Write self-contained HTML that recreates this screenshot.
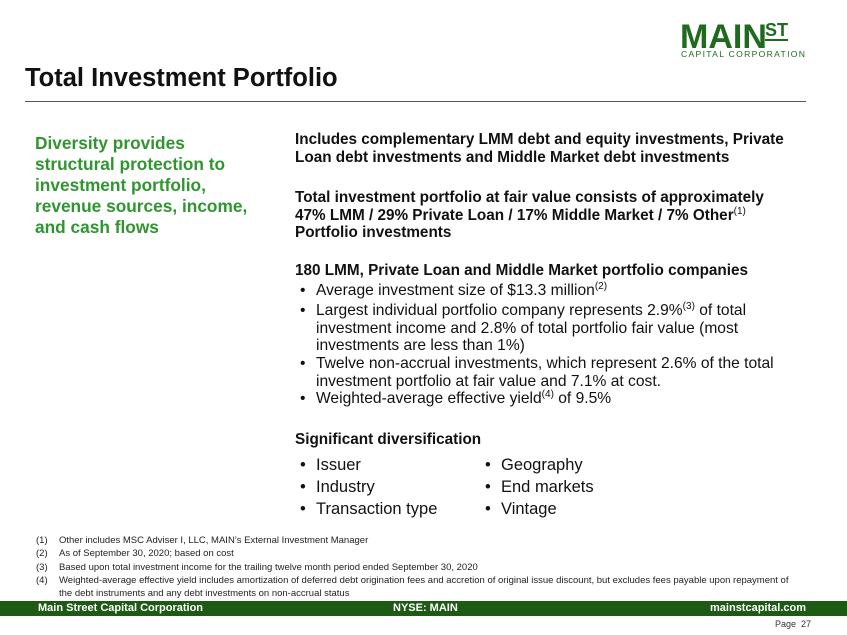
<!DOCTYPE html>
<html><head><style>
body{margin:0;width:847px;height:635px;position:relative;background:#fff;font-family:"Liberation Sans",Arial,sans-serif;overflow:hidden}
.a{position:absolute;white-space:nowrap}
.g{color:#2f962f;font-weight:bold;font-size:17.3px;line-height:21px}
.b{font-weight:bold;font-size:15.3px;color:#111}
.n{font-size:15.6px;color:#111}
.m{font-size:16.5px;color:#111}
.f{font-size:9.5px;color:#222}
sup{font-size:10px;vertical-align:6px;line-height:0}
</style></head><body>
<div class="a" style="left:680px;top:20px;font-size:34px;font-weight:bold;color:#1e6b1e;line-height:34px">MAIN</div>
<div class="a" style="left:765px;top:22px;font-size:18px;font-weight:bold;color:#1e6b1e;border-bottom:2px solid #1e6b1e;line-height:17px">ST</div>
<div class="a" style="left:681px;top:49px;font-size:8.6px;color:#1e6b1e;letter-spacing:1.3px">CAPITAL CORPORATION</div>
<div class="a" style="left:25px;top:64px;font-size:25.5px;font-weight:bold;color:#111">Total Investment Portfolio</div>
<div class="a" style="left:25px;top:101px;width:781px;height:1px;background:#555"></div>
<div class="a g" style="left:35px;top:133px">Diversity provides<br>structural protection to<br>investment portfolio,<br>revenue sources, income,<br>and cash flows</div>
<div class="a b" style="left:295px;top:131px;line-height:18px">Includes complementary LMM debt and equity investments, Private<br>Loan debt investments and Middle Market debt investments</div>
<div class="a b" style="left:295px;top:189px;line-height:17.5px">Total investment portfolio at fair value consists of approximately<br>47% LMM / 29% Private Loan / 17% Middle Market / 7% Other<sup style="font-weight:normal">(1)</sup><br>Portfolio investments</div>
<div class="a b" style="left:295px;top:262px">180 LMM, Private Loan and Middle Market portfolio companies</div>
<div class="a n" style="left:300px;top:282px">•</div><div class="a n" style="left:316px;top:282px">Average investment size of $13.3 million<sup>(2)</sup></div>
<div class="a n" style="left:300px;top:302px">•</div><div class="a n" style="left:316px;top:302px;line-height:17.6px">Largest individual portfolio company represents 2.9%<sup>(3)</sup> of total<br>investment income and 2.8% of total portfolio fair value (most<br>investments are less than 1%)</div>
<div class="a n" style="left:300px;top:355px">•</div><div class="a n" style="left:316px;top:355px;line-height:17.6px">Twelve non-accrual investments, which represent 2.6% of the total<br>investment portfolio at fair value and 7.1% at cost.</div>
<div class="a n" style="left:300px;top:390px">•</div><div class="a n" style="left:316px;top:390px">Weighted-average effective yield<sup>(4)</sup> of 9.5%</div>
<div class="a b" style="left:295px;top:431px">Significant diversification</div>
<div class="a m" style="left:300px;top:454px;line-height:22px">•<br>•<br>•</div>
<div class="a m" style="left:316px;top:454px;line-height:22px">Issuer<br>Industry<br>Transaction type</div>
<div class="a m" style="left:485px;top:454px;line-height:22px">•<br>•<br>•</div>
<div class="a m" style="left:501px;top:454px;line-height:22px">Geography<br>End markets<br>Vintage</div>
<div class="a f" style="left:36px;top:534px;line-height:13.3px">(1)<br>(2)<br>(3)<br>(4)</div>
<div class="a f" style="left:59px;top:534px;line-height:13.3px">Other includes MSC Adviser I, LLC, MAIN’s External Investment Manager<br>As of September 30, 2020; based on cost<br>Based upon total investment income for the trailing twelve month period ended September 30, 2020<br>Weighted-average effective yield includes amortization of deferred debt origination fees and accretion of original issue discount, but excludes fees payable upon repayment of<br>the debt instruments and any debt investments on non-accrual status</div>
<div class="a" style="left:0;top:601px;width:847px;height:15px;background:#1d5a14"></div>
<div class="a" style="left:38px;top:602px;font-size:11px;font-weight:bold;color:#fff">Main Street Capital Corporation</div>
<div class="a" style="left:393px;top:602px;font-size:11px;font-weight:bold;color:#fff">NYSE: MAIN</div>
<div class="a" style="left:705px;top:602px;font-size:11px;font-weight:bold;color:#fff;width:101px;text-align:right">mainstcapital.com</div>
<div class="a" style="left:775px;top:619px;font-size:9px;color:#333">Page&nbsp; 27</div>
</body></html>
